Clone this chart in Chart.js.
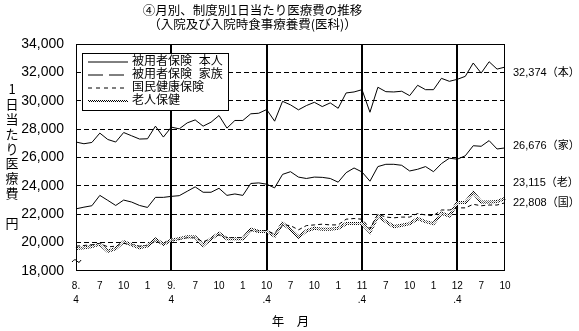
<!DOCTYPE html>
<html lang="ja">
<head>
<meta charset="utf-8">
<script src="https://cdn.jsdelivr.net/npm/chart.js@4.4.1/dist/chart.umd.min.js"></script>
<style>
  html, body { margin: 0; padding: 0; background: #fff; }
</style>
</head>
<body>
<canvas id="chart" width="579" height="331"></canvas>
<script>
// 月 (平成8年4月〜平成12年10月)
const months = [
  'H8.4', 'H8.5', 'H8.6', 'H8.7', 'H8.8', 'H8.9', 'H8.10', 'H8.11', 'H8.12', 'H9.1', 'H9.2', 'H9.3',
  'H9.4', 'H9.5', 'H9.6', 'H9.7', 'H9.8', 'H9.9', 'H9.10', 'H9.11', 'H9.12', 'H10.1', 'H10.2', 'H10.3',
  'H10.4', 'H10.5', 'H10.6', 'H10.7', 'H10.8', 'H10.9', 'H10.10', 'H10.11', 'H10.12', 'H11.1', 'H11.2', 'H11.3',
  'H11.4', 'H11.5', 'H11.6', 'H11.7', 'H11.8', 'H11.9', 'H11.10', 'H11.11', 'H11.12', 'H12.1', 'H12.2', 'H12.3',
  'H12.4', 'H12.5', 'H12.6', 'H12.7', 'H12.8', 'H12.9', 'H12.10',
];
const yearStarts = ['H9.4', 'H10.4', 'H11.4', 'H12.4'];

// 3か月ごとの目盛ラベル
const tickLabels = [
  ['8.', '4'], '7', '10', '1',
  ['9.', '4'], '7', '10', '1',
  ['10', '.4'], '7', '10', '1',
  ['11', '.4'], '7', '10', '1',
  ['12', '.4'], '7', '10',
];

const honnin = [
  27090, 26970, 27060, 27720, 27270, 27090, 27760, 27530, 27300, 27320, 28210, 27440,
  28140, 28020, 28440, 28650, 28210, 28490, 28960, 28070, 28610, 28610, 29080, 29120,
  29380, 28560, 29960, 29710, 29360, 29660, 29890, 29590, 29850, 29470, 30550, 30620,
  30780, 29190, 30950, 30640, 30620, 30670, 30360, 31090, 30780, 30780, 31580, 31370,
  31510, 31720, 32660, 31950, 32750, 32230, 32374,
];
const kazoku = [
  22380, 22500, 22600, 23330, 22980, 22620, 23000, 22860, 22620, 22480, 23190, 23190,
  23260, 23310, 23620, 23930, 23550, 23550, 23830, 23330, 23430, 23330, 24170, 24210,
  24120, 23860, 24810, 25000, 24620, 24520, 24620, 24600, 24520, 24260, 24930, 25260,
  24980, 24330, 25360, 25520, 25520, 25450, 25050, 25170, 25360, 25000, 25570, 25950,
  25880, 26120, 26830, 26790, 27190, 26600, 26676,
];
const kokuho = [
  19750, 19800, 19850, 19950, 19700, 19750, 19950, 19850, 19750, 19800, 20100, 19950,
  20150, 20250, 20350, 20350, 20050, 20300, 20550, 20350, 20350, 20350, 20850, 20800,
  20850, 20600, 21250, 21200, 20900, 21200, 21250, 21300, 21250, 21250, 21650, 21700,
  21650, 21000, 22000, 21800, 21750, 21800, 21800, 22050, 21950, 21900, 22300, 22300,
  22450, 22450, 22700, 22600, 22650, 22650, 22808,
];
const rojin = [
  19580, 19630, 19720, 19890, 19390, 19580, 20070, 19840, 19650, 19770, 20240, 19890,
  20170, 20280, 20420, 20400, 19810, 20280, 20660, 20280, 20280, 20280, 20940, 20780,
  20780, 20470, 21370, 20940, 20400, 20830, 21010, 20940, 20940, 21010, 21340, 21340,
  21340, 20750, 21880, 21480, 21130, 21220, 21340, 21690, 21480, 21340, 22070, 21880,
  22820, 22820, 23530, 22870, 22870, 22890, 23115,
];

const seriesNames = ['被用者保険  本人', '被用者保険  家族', '国民健康保険', '老人保健'];
const endLabels = ['32,374（本）', '26,676（家）', '22,808（国）', '23,115（老）'];

const titleLines = ['④月別、制度別1日当たり医療費の推移', '（入院及び入院時食事療養費(医科)）'];
const yTitle = '1日当たり医療費';
const yUnit = '円';
const xTitle = '年　月';

const FONT = '"Liberation Sans", "Noto Sans CJK JP", sans-serif';
const JP = '"Noto Sans CJK JP", sans-serif';

const canvas = document.getElementById('chart');
const ctx = canvas.getContext('2d');

// 老人保健 の網掛け線
function hatchPattern() {
    const c = document.createElement('canvas');
    c.width = 2; c.height = 2;
    const g = c.getContext('2d');
    g.fillStyle = '#fff';
    g.fillRect(0, 0, 2, 2);
    g.fillStyle = '#000';
    g.fillRect(0, 0, 1, 1);
    g.fillRect(1, 1, 1, 1);
    return ctx.createPattern(c, 'repeat');
}
const hatch = hatchPattern();

const decor = {
    id: 'decor',
    afterDatasetsDraw(chart) {
        const { ctx, chartArea: a, scales: { y } } = chart;
        ctx.save();

        // 網掛け線の中を白く抜く
        const pts = chart.getDatasetMeta(3).data;
        ctx.beginPath();
        pts.forEach((p, i) => i ? ctx.lineTo(p.x, p.y) : ctx.moveTo(p.x, p.y));
        ctx.strokeStyle = '#fff';
        ctx.lineWidth = 0.8;
        ctx.stroke();

        ctx.setLineDash([]);
        ctx.strokeStyle = '#000';
        ctx.lineWidth = 1;
        ctx.strokeRect(a.left + 0.5, a.top + 0.5, a.right - a.left - 1, a.bottom - a.top - 1);

        // 縦軸の省略記号
        const by = a.bottom - 10;
        ctx.beginPath();
        ctx.moveTo(a.left - 4, by + 1);
        ctx.quadraticCurveTo(a.left - 1, by - 3, a.left + 1, by);
        ctx.quadraticCurveTo(a.left + 3, by + 3, a.left + 5, by - 1);
        ctx.stroke();

        // 凡例
        const lx = 82, ly = 53, lw = 146, lh = 57;
        ctx.fillStyle = '#fff';
        ctx.fillRect(lx, ly, lw, lh);
        ctx.strokeRect(lx + 0.5, ly + 0.5, lw, lh);
        ctx.font = '12px ' + FONT;
        ctx.textBaseline = 'middle';
        ctx.textAlign = 'left';
        chart.data.datasets.forEach((ds, i) => {
            const yy = ly + 9 + i * 13;
            ctx.beginPath();
            ctx.setLineDash(ds.legendDash || []);
            ctx.lineWidth = ds.legendWidth || 1;
            ctx.strokeStyle = ds.borderColor;
            ctx.moveTo(88, yy);
            ctx.lineTo(128, yy);
            ctx.stroke();
            ctx.setLineDash([]);
            ctx.fillStyle = '#000';
            ctx.fillText(ds.label, 132, yy);
        });

        // 右端の数値
        const offsets = [6, -1.5, 0, -15];
        ctx.font = '11px ' + FONT;
        chart.data.datasets.forEach((ds, i) => {
            const last = ds.data[ds.data.length - 1];
            ctx.fillText(endLabels[i], a.right + 8, y.getPixelForValue(last) + offsets[i]);
        });

        // 縦書きの軸タイトル
        ctx.font = '13px ' + JP;
        ctx.textAlign = 'center';
        [...yTitle].forEach((ch, i) => ctx.fillText(ch, 12, 89 + i * 14.9));
        ctx.fillText(yUnit, 12, 223);
        ctx.restore();
    },
};

new Chart(ctx, {
    type: 'line',
    data: {
        labels: months,
        datasets: [
            { label: seriesNames[0], data: honnin, borderColor: '#000', borderWidth: 1, legendDash: [] },
            { label: seriesNames[1], data: kazoku, borderColor: '#000', borderWidth: 1, legendDash: [15, 6] },
            { label: seriesNames[2], data: kokuho, borderColor: '#000', borderWidth: 1, borderDash: [4, 3], legendDash: [4, 4] },
            { label: seriesNames[3], data: rojin, borderColor: hatch, borderWidth: 3, legendWidth: 2 },
        ],
    },
    options: {
        responsive: false,
        animation: false,
        devicePixelRatio: 1,
        events: [],
        layout: { padding: { left: 0, right: 74, top: 0, bottom: 0 } },
        elements: {
            point: { radius: 0 },
            line: { tension: 0, fill: false },
        },
        plugins: {
            legend: { display: false },
            tooltip: { enabled: false },
            title: {
                display: true,
                text: titleLines,
                color: '#000',
                font: { family: JP, size: 12.5, weight: 'normal', lineHeight: '14px' },
                padding: { top: 3, bottom: 13 },
            },
        },
        scales: {
            x: {
                afterFit: s => { s.height = 60; },
                grid: {
                    drawTicks: false,
                    color: c => yearStarts.includes(months[c.tick.value]) ? '#000' : 'rgba(0,0,0,0)',
                    lineWidth: c => yearStarts.includes(months[c.tick.value]) ? 2 : 0,
                },
                border: { display: false },
                ticks: {
                    autoSkip: false,
                    maxRotation: 0,
                    minRotation: 0,
                    padding: 8,
                    color: '#000',
                    font: { family: FONT, size: 10, lineHeight: '14px' },
                    callback: (v, i) => i % 3 === 0 ? tickLabels[i / 3] : '',
                },
                title: {
                    display: true,
                    text: xTitle,
                    color: '#000',
                    font: { family: JP, size: 12.5 },
                    padding: { top: 0, bottom: 2.5 },
                },
            },
            y: {
                min: 18000,
                max: 34000,
                afterFit: s => { s.width = 76; },
                grid: {
                    drawTicks: false,
                    color: c => (c.tick.value === 18000 || c.tick.value === 34000) ? 'rgba(0,0,0,0)' : '#000',
                },
                border: { display: false, dash: [5, 3] },
                ticks: {
                    stepSize: 2000,
                    padding: 12,
                    color: '#000',
                    font: { family: FONT, size: 14 },
                    callback: v => v.toLocaleString('en-US'),
                },
            },
        },
    },
    plugins: [decor],
});
</script>
</body>
</html>
